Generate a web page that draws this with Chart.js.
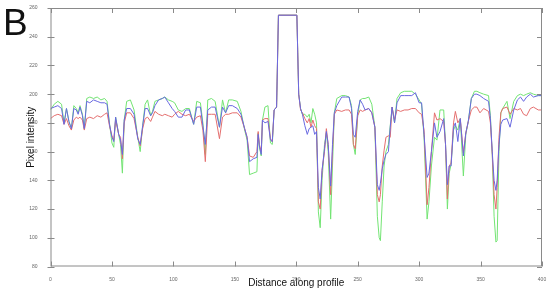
<script src="https://cdn.jsdelivr.net/npm/chart.js"></script>

<style>
  body { margin: 0; background: #fff; }
</style>

<div style="position:relative;height:291px;width:550px;">
  <canvas id="myChart"></canvas>
</div>

<script>
// distance along profile (shared by the three channels)
const positions = [0,3,6,9,11,13,15,17,19,21,
  22.5,24,26,27.5,29.5,32,35,38,41,44,
  46,48,50,51.5,53,55.5,57,58.5,60,62,
  65,68,71,73,75,77,79,81.5,83,85,
  88,91,93,96,99,101,104,107,110,113,
  116.5,119,122,124,126,128,131,134,137.5,140,
  142.5,145,148,152,155,158,160,162,165,168,
  169,170,171.5,172.5,174.5,177,179,180.5,182,184,
  185.5,200.5,202,203.5,205,207,209,210.5,212,213.5,
  215,216.5,218,219.5,221,223,224.5,226,228,229.5,
  231,233,237,240,243,245,246.5,248,250,252,
  254,256,259,261.5,264,266,267.5,268.5,270,271.5,
  273,275,276.5,278,280,282,285,288,291,294,
  297,300,302,304,306.5,308,310,312.5,314.5,317,
  320,321.5,323,324.5,326,328,329.5,331.5,333.5,336,
  338,340,342.5,345,347,349.5,352.5,356.5,358,359.5,
  361,362.5,363.5,365,366.5,368,371.5,374,377,380,
  382.5,385,387.5,390.5,393,397,400];

const red = [183,185,186,185,179,183,178,175,182,184,
  183,184,182,175,183,184,183,185,184,186,
  187,178,171,168,182,172,170,155,180,187,
  187,183,170,164,176,183,184,181,184,188,
  186,185,186,185,184,186,188,186,185,186,
  181,184,185,175,153,186,186,186,169,184,
  186,186,187,187,184,176,170,157,156,160,
  174,165,160,182,183,183,169,167,189,191,
  255,255,200,189,187,183,180,183,177,182,
  178,176,125,120,147,160,176,165,130,160,
  186,189,188,189,189,186,165,162,185,189,
  188,189,190,187,177,130,125,130,150,161,
  170,171,170,191,182,189,188,189,189,190,
  190,187,186,175,123,135,160,187,182,183,
  181,165,127,150,152,180,188,180,183,159,
  173,181,189,191,191,187,190,188,180,159,
  130,120,135,170,187,190,191,186,190,189,
  190,186,185,190,191,189,189];

const green = [189,193,195,193,180,190,181,176,192,190,
  187,192,186,176,197,198,197,198,196,197,
  195,180,166,163,184,172,165,145,182,195,
  196,189,170,160,178,193,196,185,188,195,
  196,197,198,196,195,194,189,188,190,190,
  179,195,194,180,158,196,197,195,177,196,
  187,196,196,195,188,175,168,144,145,146,
  173,163,157,182,191,192,166,165,189,191,
  255,255,200,190,186,186,184,186,180,190,
  186,180,118,107,140,165,173,160,113,150,
  187,197,199,199,198,192,165,158,185,196,
  197,197,198,193,177,115,100,98,125,150,
  160,165,178,191,180,197,201,202,202,202,
  200,196,193,170,113,125,150,170,168,189,
  189,165,120,145,151,175,178,175,183,143,
  172,181,197,202,202,201,200,199,185,158,
  115,97,98,160,187,190,195,183,195,199,
  200,199,200,201,200,199,199];

const blue = [190,191,192,190,179,190,181,176,190,189,
  186,191,185,176,195,194,196,195,194,194,
  193,179,170,167,184,172,168,158,182,190,
  190,186,169,165,178,190,190,185,187,192,
  196,197,198,194,190,188,184,184,189,189,
  179,191,191,178,165,189,191,191,177,191,
  187,192,192,190,186,176,170,153,155,156,
  172,164,158,182,180,181,168,167,189,191,
  255,255,200,190,186,178,172,176,177,178,
  172,174,135,127,147,162,174,165,136,165,
  187,192,198,198,198,190,172,170,188,196,
  193,189,190,187,177,137,133,138,148,154,
  158,160,177,191,180,194,199,199,199,199,
  201,194,194,172,142,145,160,180,170,174,
  183,165,137,150,150,177,180,167,183,157,
  173,181,197,200,200,199,197,195,183,160,
  140,133,140,165,179,182,183,177,189,196,
  198,195,198,200,198,199,199];

const xTicks = [0, 50, 100, 150, 200, 250, 300, 350, 400];
const yTicks = [80, 100, 120, 140, 160, 180, 200, 220, 240, 260];

function series(vals) {
  return positions.map((x, i) => ({x: x, y: vals[i]}));
}

// matlab style box with inward ticks, plus the panel letter
const boxPlugin = {
  id: 'box',
  afterDraw(chart) {
    const ctx = chart.ctx;
    const a = chart.chartArea;
    const xs = chart.scales.x, ys = chart.scales.y;
    ctx.save();
    ctx.strokeStyle = '#8a8a8a';
    ctx.lineWidth = 1;
    ctx.strokeRect(a.left + 0.5, a.top + 0.5, a.right - a.left - 1, a.bottom - a.top - 1);
    ctx.beginPath();
    xTicks.forEach(v => {
      const px = Math.round(xs.getPixelForValue(v)) + 0.5;
      ctx.moveTo(px, a.bottom); ctx.lineTo(px, a.bottom - 5);
      ctx.moveTo(px, a.top); ctx.lineTo(px, a.top + 5);
    });
    yTicks.forEach(v => {
      const py = Math.round(ys.getPixelForValue(v)) + 0.5;
      ctx.moveTo(a.left - 3, py); ctx.lineTo(a.left + 4, py);
      ctx.moveTo(a.right, py); ctx.lineTo(a.right - 5, py);
    });
    ctx.stroke();
    ctx.fillStyle = '#111';
    ctx.font = '37px "Liberation Sans", Arial, sans-serif';
    ctx.textBaseline = 'alphabetic';
    ctx.fillText('B', 3, 35);
    ctx.restore();
  }
};

const tickFont = {family: '"Liberation Sans", Arial, sans-serif', size: 5};
const titleFont = {family: '"Liberation Sans", Arial, sans-serif', size: 10};

const config = {
  type: 'line',
  data: {
    datasets: [
      {label: 'Blue', data: series(blue), borderColor: 'rgb(105,105,225)', order: 1},
      {label: 'Red', data: series(red), borderColor: 'rgb(228,110,110)', order: 2},
      {label: 'Green', data: series(green), borderColor: 'rgb(115,228,115)', order: 3}
    ]
  },
  options: {
    responsive: true,
    maintainAspectRatio: false,
    animation: false,
    layout: {padding: {top: 5, right: 8, left: 0, bottom: 0}},
    elements: {
      line: {borderWidth: 1, tension: 0, fill: false},
      point: {radius: 0}
    },
    plugins: {legend: {display: false}, tooltip: {enabled: false}},
    scales: {
      x: {
        type: 'linear', min: 0, max: 400,
        afterFit: s => { s.height = 24.5; },
        afterBuildTicks: s => { s.ticks = xTicks.map(v => ({value: v})); },
        grid: {display: false},
        border: {display: false},
        ticks: {font: tickFont, color: '#666', padding: 2, maxRotation: 0},
        title: {display: true, text: 'Distance along profile', font: titleFont, color: '#111', padding: {top: 0, bottom: 2}}
      },
      y: {
        min: 80, max: 260,
        afterFit: s => { s.width = 50.5; },
        afterBuildTicks: s => { s.ticks = yTicks.map(v => ({value: v})); },
        grid: {display: false},
        border: {display: false},
        ticks: {font: tickFont, color: '#666', padding: 5},
        title: {display: true, text: 'Pixel intensity', font: titleFont, color: '#111', padding: {top: 25, bottom: 0}}
      }
    }
  },
  plugins: [boxPlugin]
};

var myChart = new Chart(document.getElementById('myChart'), config);
</script>
